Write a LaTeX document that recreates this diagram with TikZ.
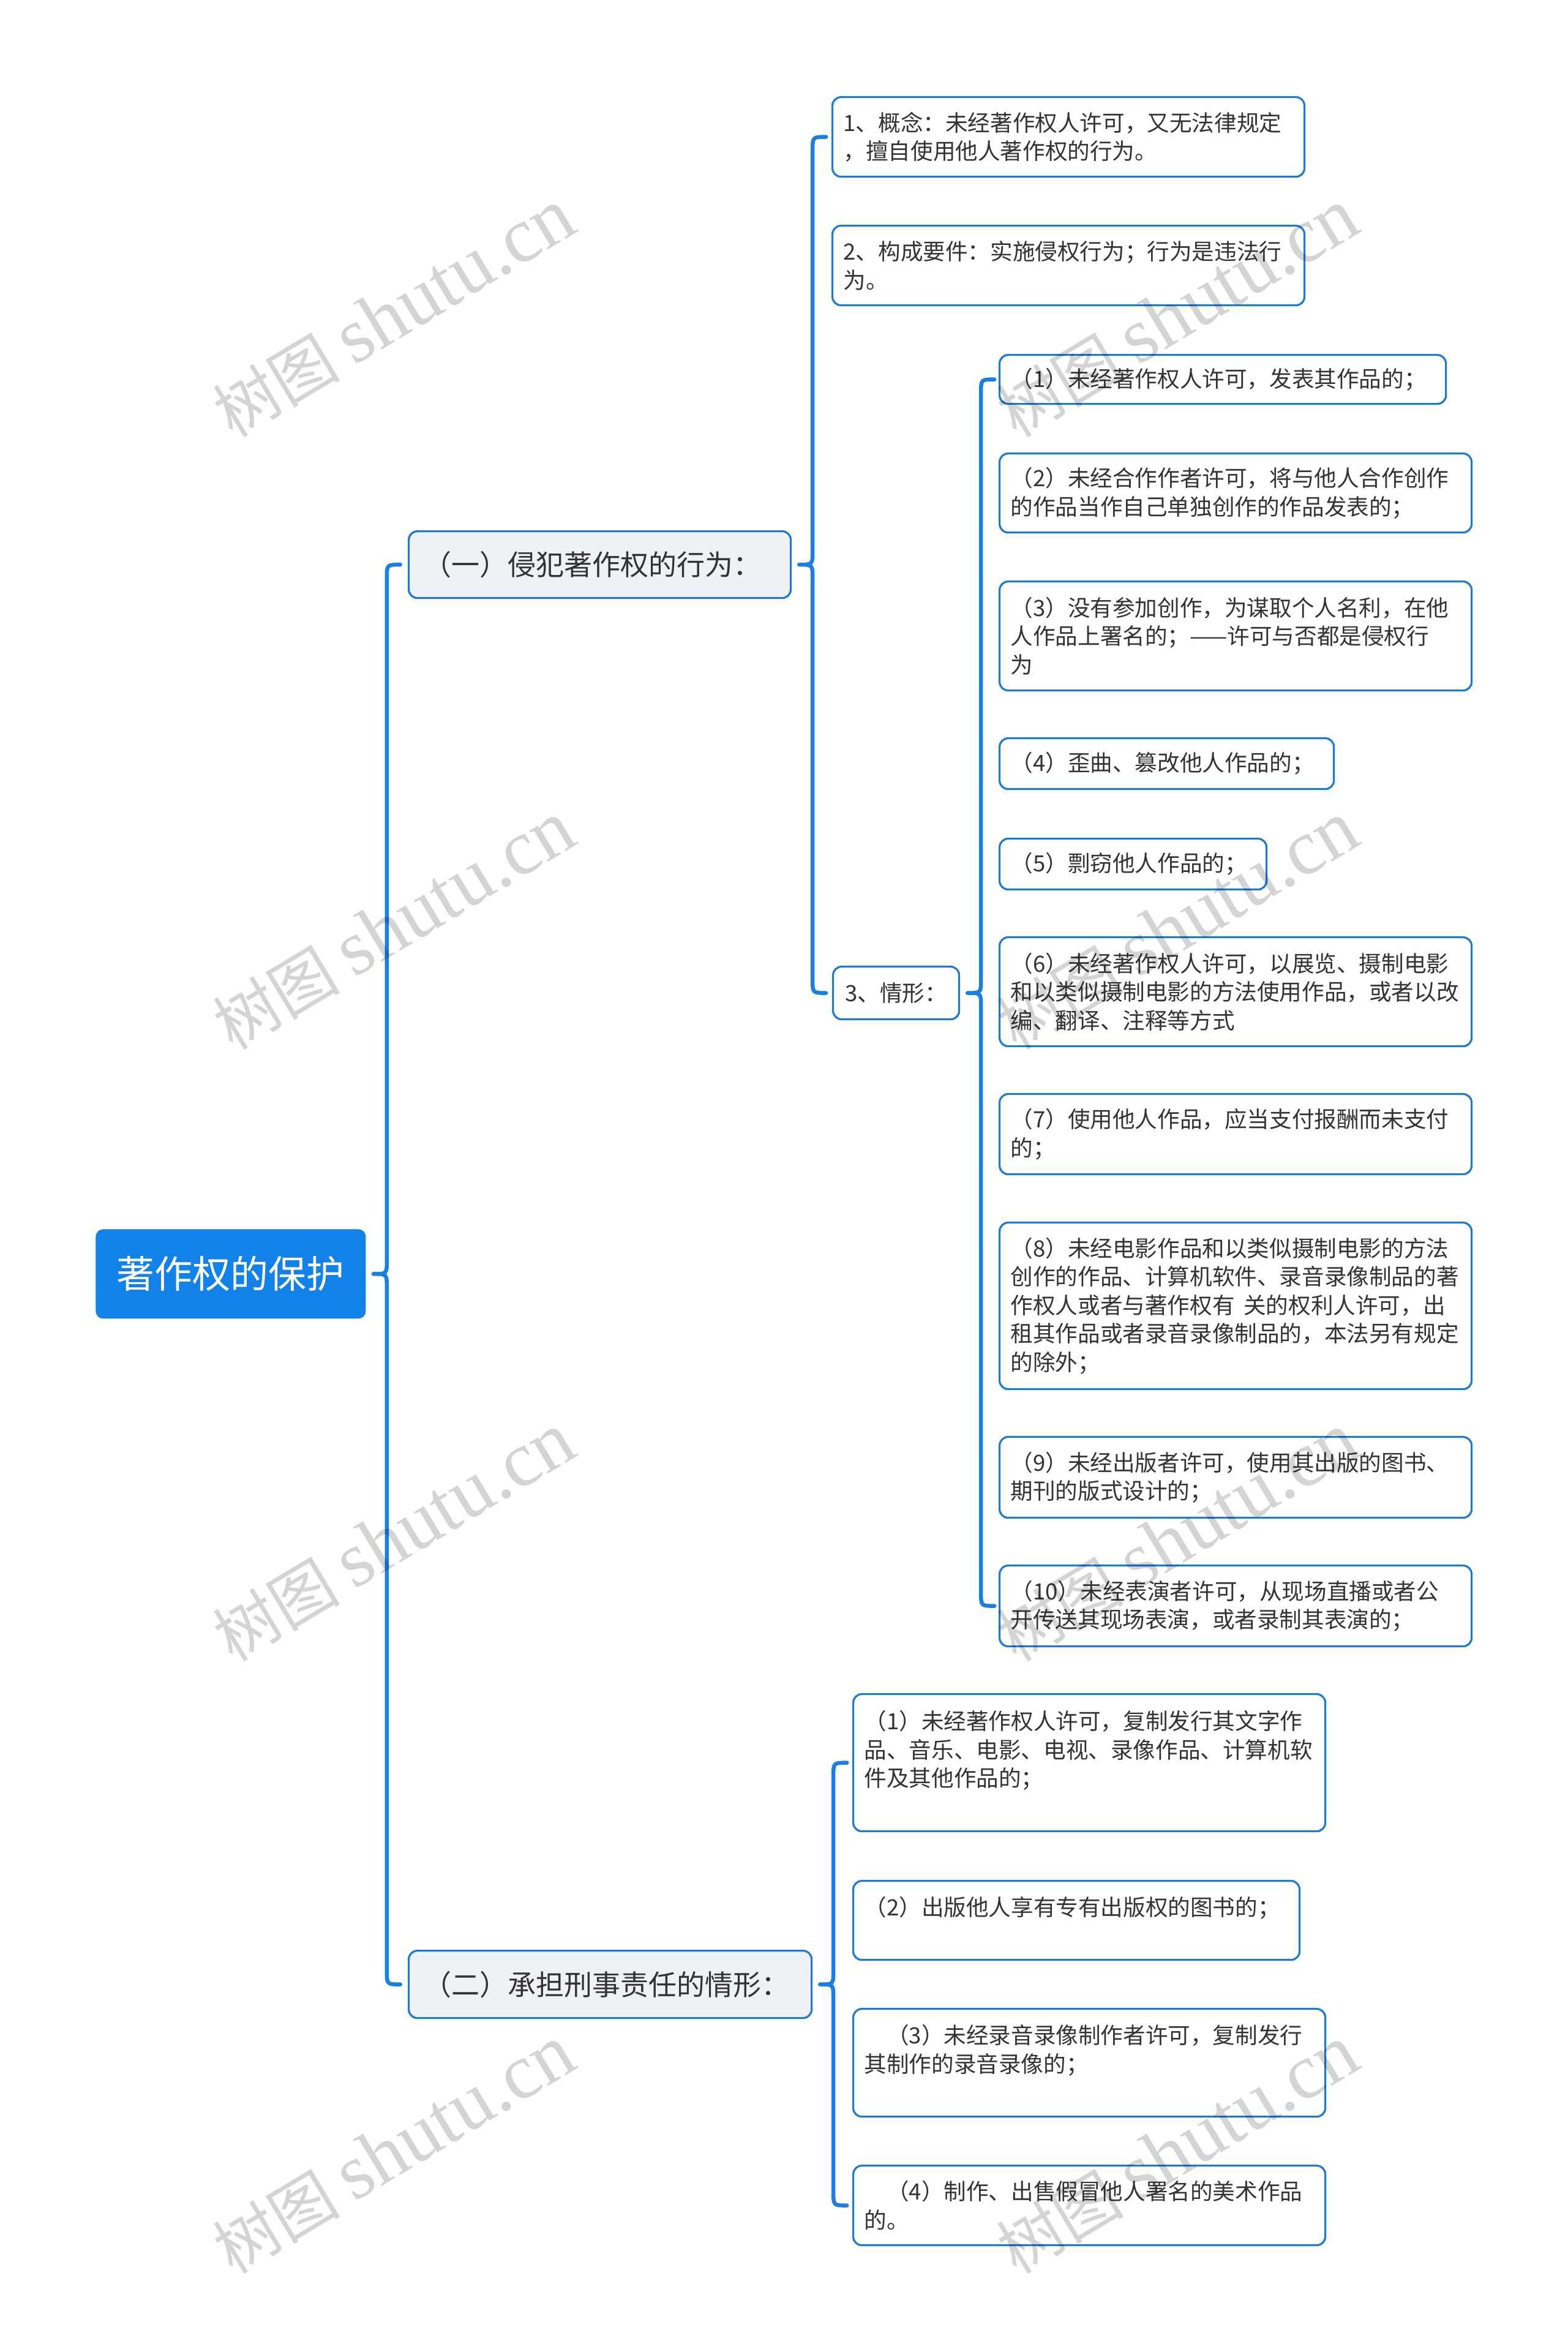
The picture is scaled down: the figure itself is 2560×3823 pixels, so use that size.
\documentclass[tikz,border=0pt]{standalone}
\usepackage{fontspec}
\setmainfont{Noto Sans CJK SC}
\newfontfamily\wmlatin{Liberation Serif}
\usetikzlibrary{calc}
\definecolor{rootblue}{HTML}{1282E8}
\definecolor{linkblue}{HTML}{1A7FE2}
\definecolor{borderblue}{HTML}{1C7AD8}
\definecolor{lvlfill}{HTML}{EEF2F6}
\definecolor{txt}{HTML}{333333}
\tikzset{
 conn/.style={draw=linkblue, line width=3.2pt, line cap=round, line join=round},
 box/.style={draw=borderblue, line width=1.6pt, rounded corners=7pt, fill=white, text=txt,
   font=\fontsize{18.3pt}{23.25pt}\selectfont, align=left, inner xsep=9pt, inner ysep=0pt, anchor=north west},
 full/.style={box, minimum width=385.5pt, text width=367.5pt},
 lvl/.style={draw=borderblue, line width=1.6pt, rounded corners=7pt, fill=lvlfill, text=txt,
   font=\fontsize{23pt}{28pt}\selectfont, align=left, inner xsep=12pt, anchor=north west},
 rootbox/.style={fill=rootblue, rounded corners=6pt, text=white, font=\fontsize{31pt}{36pt}\selectfont,
   anchor=north west, minimum width=220.5pt, minimum height=73pt},
 wm/.style={text=black, text opacity=0.17, font=\fontsize{52pt}{60pt}\selectfont, rotate=31}
}
\newcommand\wmtext{树图 {\wmlatin\fontsize{64pt}{70pt}\selectfont shutu.cn}}
\newcommand\mmbrace[3]{%
  \coordinate (#1v) at ($(#1.east)+(34,0)$);
  \draw[conn] ($(#2.west -| #1v)+(22,0)$) .. controls (#2.west -| #1v) .. ($(#2.west -| #1v)+(0,22)$)
    -- ($(#1v)+(0,-22)$) .. controls (#1v) .. ($(#1.east)+(12,0)$)
    .. controls (#1v) .. ($(#1v)+(0,22)$)
    -- ($(#3.west -| #1v)+(0,-22)$) .. controls (#3.west -| #1v) .. ($(#3.west -| #1v)+(22,0)$);
}
\begin{document}
\begin{tikzpicture}[x=0.5pt, y=-0.5pt]
\useasboundingbox[fill=white] (0,0) rectangle (2560,3823);

% root and level 1
\node[rootbox] (root) at (156,2007) {著作权的保护};
\node[lvl, minimum width=312pt, minimum height=54.5pt, text width=288pt] (A) at (666,866) {（一）侵犯著作权的行为：};
\node[lvl, minimum width=329pt, minimum height=55pt, text width=305pt] (B) at (666,3184) {（二）承担刑事责任的情形：};

% level 2 under A
\node[full, minimum height=65pt] (A1) at (1358,157) {1、概念：未经著作权人许可，又无法律规定\\，擅自使用他人著作权的行为。};
\node[full, minimum height=65pt] (A2) at (1358,367) {2、构成要件：实施侵权行为；行为是违法行\\为。};
\node[box, align=center, minimum width=103pt, minimum height=43pt] (A3) at (1359,1577) {3、情形：};

% level 3 under A3
\node[box, minimum width=364.5pt, text width=346.5pt, minimum height=40pt] (C1) at (1631,578) {（1）未经著作权人许可，发表其作品的；};
\node[full, minimum height=64.5pt] (C2) at (1631,739) {（2）未经合作作者许可，将与他人合作创作\\的作品当作自己单独创作的作品发表的；};
\node[full, minimum height=89pt] (C3) at (1631,948) {（3）没有参加创作，为谋取个人名利，在他\\人作品上署名的；——许可与否都是侵权行\\为};
\node[box, minimum width=273pt, text width=255pt, minimum height=41.5pt] (C4) at (1631,1204) {（4）歪曲、篡改他人作品的；};
\node[box, minimum width=218pt, text width=200pt, minimum height=41.5pt] (C5) at (1631,1368) {（5）剽窃他人作品的；};
\node[full, minimum height=89pt] (C6) at (1631,1529) {（6）未经著作权人许可，以展览、摄制电影\\和以类似摄制电影的方法使用作品，或者以改\\编、翻译、注释等方式};
\node[full, minimum height=65.5pt] (C7) at (1631,1785) {（7）使用他人作品，应当支付报酬而未支付\\的；};
\node[full, minimum height=136pt] (C8) at (1631,1995) {（8）未经电影作品和以类似摄制电影的方法\\创作的作品、计算机软件、录音录像制品的著\\作权人或者与著作权有\hspace{0.4em}关的权利人许可，出\\租其作品或者录音录像制品的，本法另有规定\\的除外；};
\node[full, minimum height=66pt] (C9) at (1631,2345) {（9）未经出版者许可，使用其出版的图书、\\期刊的版式设计的；};
\node[full, minimum height=66pt] (C10) at (1631,2555) {（10）未经表演者许可，从现场直播或者公\\开传送其现场表演，或者录制其表演的；};

% level 2 under B
\node[full, minimum height=112pt] (D1) at (1392,2765) {（1）未经著作权人许可，复制发行其文字作\\品、音乐、电影、电视、录像作品、计算机软\\件及其他作品的；\\\mbox{}};
\node[box, minimum width=364.5pt, text width=346.5pt, minimum height=64.5pt] (D2) at (1392,3070) {（2）出版他人享有专有出版权的图书的；\\\mbox{}};
\node[full, minimum height=88pt] (D3) at (1392,3279) {\hspace*{1em}（3）未经录音录像制作者许可，复制发行\\其制作的录音录像的；\\\mbox{}};
\node[full, minimum height=65pt] (D4) at (1392,3535) {\hspace*{1em}（4）制作、出售假冒他人署名的美术作品\\的。};

% connectors
\mmbrace{root}{A}{B}
\mmbrace{A}{A1}{A3}
\mmbrace{A3}{C1}{C10}
\mmbrace{B}{D1}{D4}

% watermarks
\node[wm] (w1) at (643,512) {\wmtext};
\node[wm] (w2) at (643,1512) {\wmtext};
\node[wm] (w3) at (643,2511) {\wmtext};
\node[wm] (w4) at (643,3511) {\wmtext};
\node[wm] (w5) at (1923,512) {\wmtext};
\node[wm] (w6) at (1923,1512) {\wmtext};
\node[wm] (w7) at (1923,2511) {\wmtext};
\node[wm] (w8) at (1923,3511) {\wmtext};
\end{tikzpicture}
\end{document}
